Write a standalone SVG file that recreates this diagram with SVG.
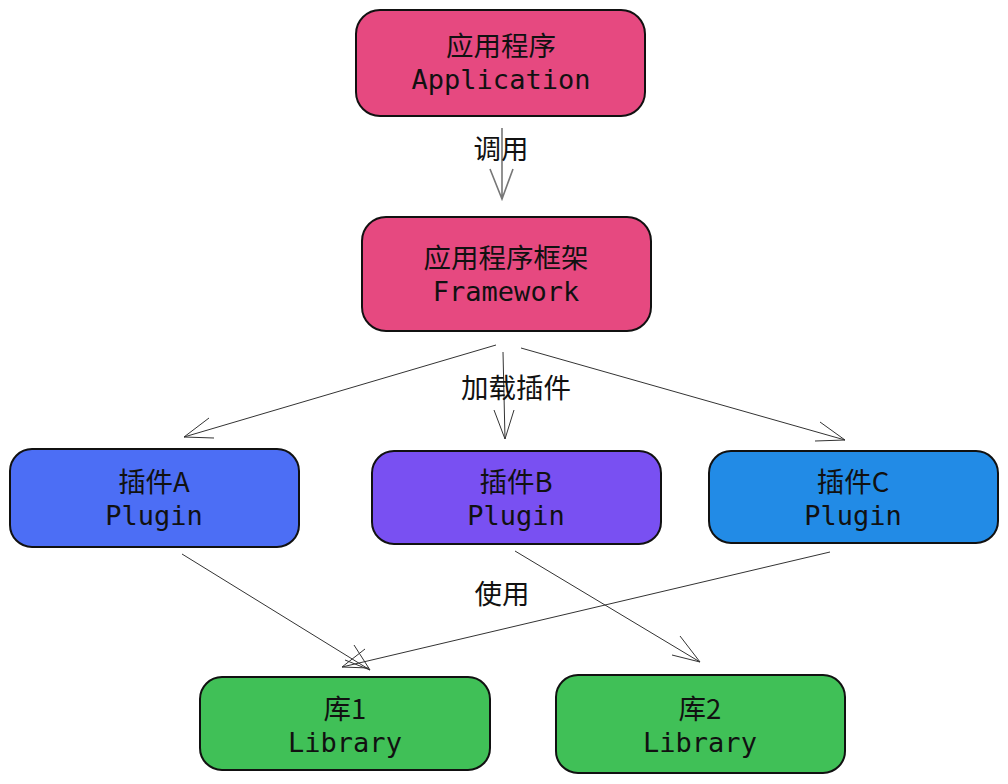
<svg xmlns="http://www.w3.org/2000/svg" width="1008" height="784" viewBox="0 0 1008 784">
<style>
.box{stroke:#111;stroke-width:2}
.t1{font-family:"Noto Sans CJK SC","Noto Sans",sans-serif;font-size:27.5px;fill:#111;text-anchor:middle}
.t2{font-family:"DejaVu Sans Mono","Liberation Mono",monospace;font-size:27px;fill:#111;text-anchor:middle}
.lbl{font-family:"Noto Sans CJK SC","Noto Sans",sans-serif;font-size:27.5px;fill:#111;text-anchor:middle}
.e{stroke:#333;stroke-width:1;fill:none}
.eg{stroke:#777;stroke-width:1.6;fill:none}
</style>
<rect width="1008" height="784" fill="#fff"/>
<g id="connectors">
<path class="eg" d="M502,128 L502,199 M490,169 L502,199 L513,169"/>
<text class="lbl" x="501" y="159">调用</text>
<path class="e" d="M496,345 L184,437 M209,418 L184,437 L214,438"/>
<path class="e" d="M503,352 L505,439 M494,410 L505,439 L514,410"/>
<path class="e" d="M521,348 L845,440 M820,422 L845,440 L815,441"/>
<text class="lbl" x="516" y="398">加载插件</text>
<path class="e" d="M182,554 L370,670 M345,660 L370,670 L354,645"/>
<path class="e" d="M515,551 L700,662 M680,636 L700,662 L672,655"/>
<path class="e" d="M830,552 L342,667 M365,649 L342,667 L369,668"/>
<text class="lbl" x="502" y="604">使用</text>
</g>
<g id="app"><rect class="box" x="356" y="10" width="289" height="106" rx="24" fill="#e64980"/>
<text class="t1" x="501" y="56">应用程序</text><text class="t2" x="501" y="89">Application</text></g>
<g id="framework"><rect class="box" x="362" y="217" width="289" height="114" rx="24" fill="#e64980"/>
<text class="t1" x="506" y="268">应用程序框架</text><text class="t2" x="506" y="301">Framework</text></g>
<g id="pluginA"><rect class="box" x="10" y="449" width="289" height="98" rx="22" fill="#4c6ef5"/>
<text class="t1" x="154" y="492">插件A</text><text class="t2" x="154" y="525">Plugin</text></g>
<g id="pluginB"><rect class="box" x="372" y="451" width="289" height="93" rx="22" fill="#7950f2"/>
<text class="t1" x="516" y="492">插件B</text><text class="t2" x="516" y="525">Plugin</text></g>
<g id="pluginC"><rect class="box" x="709" y="451" width="289" height="92" rx="22" fill="#228be6"/>
<text class="t1" x="853" y="492">插件C</text><text class="t2" x="853" y="525">Plugin</text></g>
<g id="lib1"><rect class="box" x="200" y="677" width="290" height="93" rx="22" fill="#40c057"/>
<text class="t1" x="345" y="719">库1</text><text class="t2" x="345" y="752">Library</text></g>
<g id="lib2"><rect class="box" x="556" y="675" width="289" height="98" rx="22" fill="#40c057"/>
<text class="t1" x="700" y="719">库2</text><text class="t2" x="700" y="752">Library</text></g>
</svg>
